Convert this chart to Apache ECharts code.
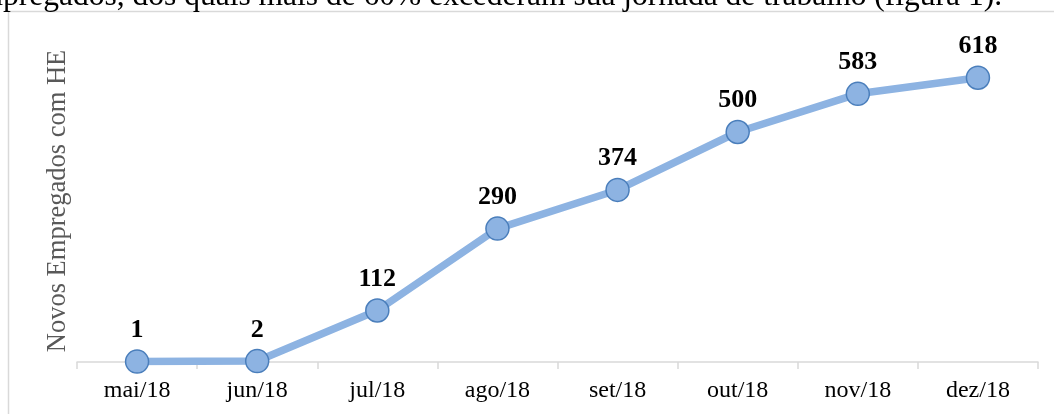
<!DOCTYPE html>
<html>
<head>
<meta charset="utf-8">
<script src="https://cdn.jsdelivr.net/npm/echarts@6/dist/echarts.min.js"></script>
<style>
html,body{margin:0;padding:0;background:#fff;}
#c{width:1054px;height:414px;}
</style>
</head>
<body>
<div id="c"></div>
<script>
var categories = ['mai/18','jun/18','jul/18','ago/18','set/18','out/18','nov/18','dez/18'];
var values = [1, 2, 112, 290, 374, 500, 583, 618];
var yAxisName = 'Novos Empregados com HE';
var topText = 'empregados, dos quais mais de 60% excederam sua jornada de trabalho (figura 1).';

var chart = echarts.init(document.getElementById('c'), null, {renderer:'canvas'});
var serif = '"Liberation Serif", "Times New Roman", serif';
chart.setOption({
  animation: false,
  backgroundColor: '#fff',
  graphic: [
    {type:'rect', shape:{x:8.5, y:11.5, width:1100, height:500},
     style:{fill:'none', stroke:'#d9d9d9', lineWidth:1.5}, silent:true, z:0},
    {type:'text', x:1002, y:13, style:{text: topText, fill:'#000', font:'31.5px ' + serif,
     textAlign:'right', textVerticalAlign:'bottom'}, silent:true, z:1}
  ],
  grid: {left:77, right:16, top:40, bottom:52},
  xAxis: {
    type:'category', data: categories, boundaryGap:true,
    axisLine:{lineStyle:{color:'#d9d9d9', width:1.5}},
    axisTick:{show:true, length:7, lineStyle:{color:'#d9d9d9', width:1.5}},
    axisLabel:{color:'#000', fontFamily:serif, fontSize:24, margin:17}
  },
  yAxis: {
    type:'value', min:0, max:700, interval:100,
    axisLine:{show:false}, axisTick:{show:false}, axisLabel:{show:false},
    splitLine:{show:false},
    name: yAxisName, nameLocation:'middle', nameGap:5, nameRotate:90,
    nameTextStyle:{color:'#595959', fontFamily:serif, fontSize:26.5}
  },
  series: [{
    type:'line', data: values,
    symbol:'circle', symbolSize:23,
    lineStyle:{color:'#8db3e2', width:7.5},
    itemStyle:{color:'#8db3e2', borderColor:'#4a7ebb', borderWidth:1.5},
    label:{show:true, position:'top', distance:6, color:'#000', fontFamily:serif,
      fontSize:26, fontWeight:'bold'}
  }]
});
</script>
</body>
</html>
